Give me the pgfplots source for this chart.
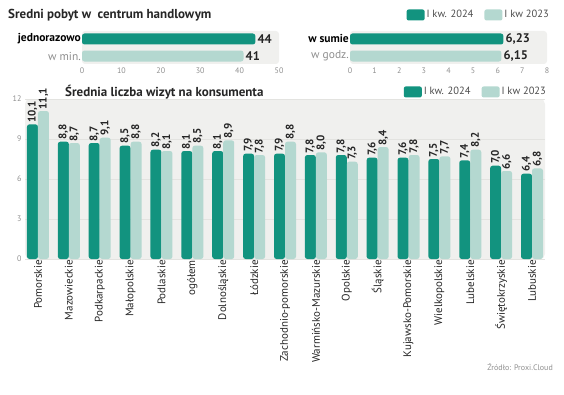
\documentclass[border=0pt]{standalone}
\usepackage{pgfplots}
\pgfplotsset{compat=1.18}
\usepackage{pgfplotstable}
\usepackage{fontspec}
\setmainfont{PT Sans}
\definecolor{dk}{HTML}{12937F}
\definecolor{lt}{HTML}{B4D8D0}
\definecolor{bg}{HTML}{F0F0EE}
\definecolor{gridc}{HTML}{E3E3E0}
\definecolor{tickc}{HTML}{8E8E8E}
\definecolor{txt}{HTML}{262626}

\pgfplotstableread{
idx v24 v23
0 10.1 11.1
1 8.8 8.7
2 8.7 9.1
3 8.5 8.8
4 8.2 8.1
5 8.1 8.5
6 8.1 8.9
7 7.9 7.8
8 7.9 8.8
9 7.8 8.0
10 7.8 7.3
11 7.6 8.4
12 7.6 7.8
13 7.5 7.7
14 7.4 8.2
15 7.0 6.6
16 6.4 6.8
}\visits

\begin{document}
\begin{tikzpicture}
\useasboundingbox (0pt,0pt) rectangle (564pt,394pt);

% main chart
\begin{axis}[
  at={(25pt,135pt)}, anchor=south west,
  scale only axis, width=520pt, height=160pt,
  xmin=-0.42, xmax=16.42, ymin=0, ymax=12,
  ytick={0,3,6,9,12},
  xtick={0,...,16},
  xticklabels={Pomorskie,Mazowieckie,Podkarpackie,Małopolskie,Podlaskie,ogółem,Dolnośląskie,Łódzkie,Zachodnio-pomorskie,Warmińsko-Mazurskie,Opolskie,Śląskie,Kujawsko-Pomorskie,Wielkopolskie,Lubelskie,Świętokrzyskie,Lubuskie},
  x tick label style={rotate=90, anchor=east, font=\fontsize{11}{12}\selectfont, text=txt, inner sep=1pt},
  y tick label style={font=\fontsize{8}{9}\selectfont, text=tickc},
  /pgf/number format/assume math mode=true,
  axis line style={draw=none},
  major tick length=0pt,
  ymajorgrids, grid style={gridc, line width=0.6pt},
  axis background/.style={fill=bg, rounded corners=5pt},
  ybar=0pt, bar width=11pt,
  nodes near coords={\pgfmathprintnumber[fixed,fixed zerofill,precision=1,use comma,assume math mode=true]{\pgfplotspointmeta}},
  every node near coord/.append style={rotate=90, anchor=west, font=\bfseries\fontsize{11}{12}\selectfont, text=txt, inner sep=1.5pt},
  legend style={at={(1.006,1.044)}, anchor=east, draw=none, fill=none, legend columns=2, font=\fontsize{10.5}{12}\selectfont, text=black!70, /tikz/every even column/.append style={column sep=9pt}, inner sep=0pt},
  legend image code/.code={\fill[#1, rounded corners=2pt] (0pt,-5.5pt) rectangle (18pt,5.5pt);},
]
\addplot[fill=dk, draw=none, rounded corners=2.5pt] table[x=idx,y=v24]{\visits};
\addplot[fill=lt, draw=none, rounded corners=2.5pt] table[x=idx,y=v23]{\visits};
\legend{I kw. 2024, I kw 2023}
\end{axis}

% top-left
\begin{axis}[
  at={(82pt,330pt)}, anchor=south west,
  scale only axis, width=197pt, height=33pt,
  xmin=0, xmax=50, ymin=-0.47, ymax=1.47,
  xtick={0,10,...,50}, ytick={0,1},
  yticklabels={{\color{tickc}w min.},{\bfseries jednorazowo}},
  y tick label style={font=\fontsize{11.5}{12}\selectfont, text=black, inner sep=1pt},
  x tick label style={font=\fontsize{8}{9}\selectfont, text=tickc},
  /pgf/number format/assume math mode=true,
  axis line style={draw=none}, major tick length=0pt,
  axis background/.style={fill=bg, rounded corners=3pt},
  xbar, bar width=11pt,
  nodes near coords={\pgfmathprintnumber[fixed,precision=0,assume math mode=true]{\pgfplotspointmeta}},
  every node near coord/.append style={anchor=west, font=\bfseries\fontsize{12.5}{13}\selectfont, text=txt, inner sep=2pt},
]
\addplot[fill=dk, draw=none, bar shift=0pt, rounded corners=2.5pt] coordinates {(44,1)};
\addplot[fill=lt, draw=none, bar shift=0pt, rounded corners=2.5pt] coordinates {(41,0)};
\end{axis}

% top-right
\begin{axis}[
  at={(350pt,330pt)}, anchor=south west,
  scale only axis, width=197pt, height=33pt,
  xmin=0, xmax=8, ymin=-0.47, ymax=1.47,
  xtick={0,...,8}, ytick={0,1},
  yticklabels={{\color{tickc}w godz.},{\bfseries w sumie}},
  y tick label style={font=\fontsize{11.5}{12}\selectfont, text=black, inner sep=1pt},
  x tick label style={font=\fontsize{8}{9}\selectfont, text=tickc},
  /pgf/number format/assume math mode=true,
  axis line style={draw=none}, major tick length=0pt,
  axis background/.style={fill=bg, rounded corners=3pt},
  xbar, bar width=11pt,
  nodes near coords={\pgfmathprintnumber[fixed,fixed zerofill,precision=2,use comma,assume math mode=true]{\pgfplotspointmeta}},
  every node near coord/.append style={anchor=west, font=\bfseries\fontsize{12.5}{13}\selectfont, text=txt, inner sep=2pt},
  legend style={at={(1.02,1.485)}, anchor=east, draw=none, fill=none, legend columns=2, font=\fontsize{10.5}{12}\selectfont, text=black!70, /tikz/every even column/.append style={column sep=9pt}, inner sep=0pt},
  legend image code/.code={\fill[#1, rounded corners=2pt] (0pt,-5.5pt) rectangle (18pt,5.5pt);},
]
\addplot[fill=dk, draw=none, bar shift=0pt, rounded corners=2.5pt] coordinates {(6.23,1)};
\addplot[fill=lt, draw=none, bar shift=0pt, rounded corners=2.5pt] coordinates {(6.15,0)};
\legend{I kw. 2024, I kw 2023}
\end{axis}

\node[anchor=west, font=\bfseries\fontsize{13}{14}\selectfont, text=txt, inner sep=0pt] at (8pt,379pt) {Sredni pobyt w\ \ centrum handlowym};
\node[anchor=west, font=\bfseries\fontsize{13}{14}\selectfont, text=txt, inner sep=0pt] at (65pt,302pt) {Średnia liczba wizyt na konsumenta};
\node[anchor=east, font=\fontsize{8}{9}\selectfont, text=tickc, inner sep=0pt] at (553pt,27pt) {Źródło: Proxi.Cloud};
\end{tikzpicture}
\end{document}
